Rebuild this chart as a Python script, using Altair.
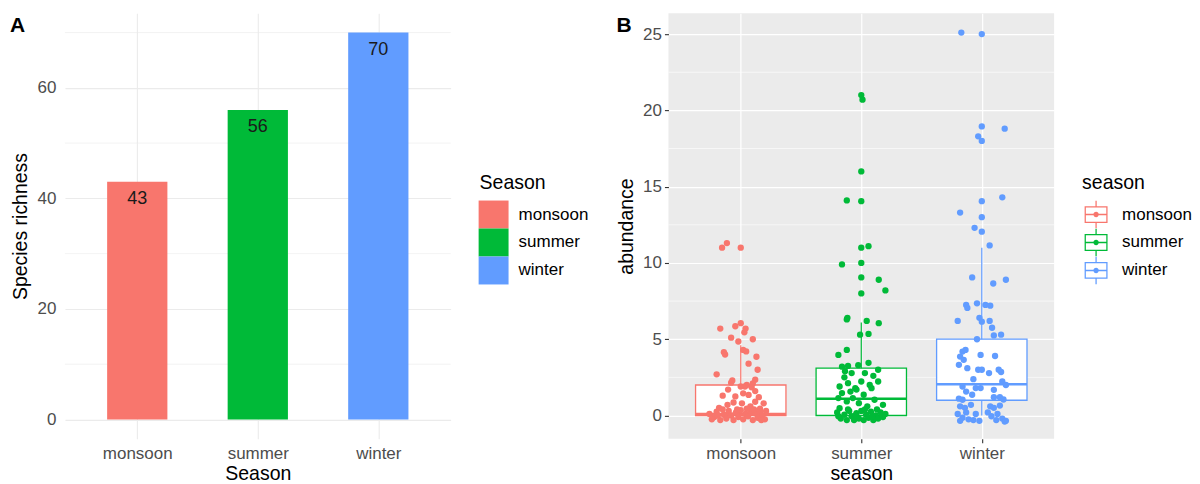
import json
import altair as alt
import pandas as pd

# ---------------- data ----------------
seasons = ["monsoon", "summer", "winter"]
season_colors = ["#F8766D", "#00BA38", "#619CFF"]
richness = [43, 56, 70]

# box statistics
box_lower = [0.0, 0.0, 0.0]
box_q1 = [0.0, 0.0, 1.0]
box_median = [0.1, 1.1, 2.05]
box_q3 = [2.0, 3.1, 5.0]
box_upper = [4.6, 6.1, 11.0]

# jittered observations (horizontal jitter in category units, abundance)
monsoon_jitter = [-0.155, -0.115, 0.0, -0.17, -0.045, 0.0, 0.04, 0.03, 0.1, -0.08, -0.02,
                  -0.14, -0.13, 0.02, 0.045, 0.13, 0.065, -0.2, 0.14,
                  -0.07, -0.08, 0.12, 0.1, 0.05, 0.035, 0.09, 0.0, -0.105, 0.12,
                  -0.045, 0.065, 0.02, 0.15, -0.15,
                  0.01, 0.12, 0.19, -0.11, -0.06, 0.08, -0.18, 0.16,
                  -0.26, -0.22, -0.2, -0.17, -0.14, -0.12, -0.1, -0.08, -0.06, -0.04, -0.02, 0.0,
                  0.02, 0.04, 0.06, 0.08, 0.1, 0.12, 0.14, 0.16, 0.18, 0.2, 0.21, -0.24, -0.15,
                  -0.03, 0.05, 0.11, -0.19, 0.17]
monsoon_abundance = [11.0, 11.3, 11.0, 5.7, 5.85, 6.05, 5.7, 5.45, 5.0, 5.1, 4.85,
                     4.15, 4.0, 4.3, 4.2, 3.85, 3.4, 2.7, 3.0,
                     2.3, 2.15, 2.35, 2.1, 2.0, 1.9, 1.85, 1.9, 1.7, 1.6,
                     1.25, 1.35, 1.45, 1.2, 1.3,
                     0.8, 0.9, 0.8, 0.7, 0.85, 0.6, 0.5, 0.45,
                     0.1, -0.1, 0.25, -0.3, 0.05, -0.2, 0.3, 0.0, -0.3, 0.2, -0.1, 0.35,
                     -0.25, 0.1, -0.05, 0.3, -0.3, 0.15, -0.15, 0.25, 0.0, -0.25, 0.3, -0.25, 0.4,
                     0.4, 0.45, 0.4, 0.0, -0.3]

summer_jitter = [0.0, 0.01, 0.0, -0.12, 0.0, 0.0, 0.06, -0.16, 0.0, 0.0, 0.145, 0.2, 0.0,
                 -0.12, -0.115, 0.045, 0.145, -0.01, 0.06, -0.19, -0.12,
                 0.06, -0.16, -0.11, -0.025, 0.14, -0.135, -0.08, 0.03, -0.11, 0.0, 0.14,
                 -0.18, -0.05, 0.085, -0.16, -0.09, 0.02, 0.11, -0.19, -0.12, -0.07, -0.02,
                 0.18, -0.18, 0.05, 0.13, -0.04, 0.07, -0.14, 0.1,
                 -0.2, -0.17, -0.14, -0.12, -0.1, -0.08, -0.06, -0.04, -0.02, 0.0, 0.02, 0.04,
                 0.06, 0.08, 0.1, 0.12, 0.14, 0.16, 0.18, 0.2, -0.19, -0.11, 0.03, 0.09, -0.05]
summer_abundance = [21.0, 20.7, 16.0, 14.1, 14.05, 11.0, 11.1, 9.9, 10.0, 9.05, 8.9, 8.2, 8.0,
                    6.3, 6.4, 6.2, 6.05, 5.3, 5.35, 3.97, 4.3,
                    3.45, 3.2, 3.25, 3.3, 3.0, 2.9, 2.78, 2.78, 2.12, 2.23, 2.23,
                    1.9, 1.79, 1.79, 1.47, 1.57, 1.36, 1.03, 1.14, 0.92, 1.14, 0.81,
                    0.7, 0.48, 0.6, 0.4, 1.7, 2.0, 2.5, 2.6,
                    0.2, -0.2, 0.05, -0.3, 0.3, -0.05, -0.3, 0.15, -0.2, 0.3, -0.3, 0.05,
                    -0.15, 0.25, -0.3, 0.0, -0.2, 0.2, -0.1, 0.1, -0.05, 0.4, 0.4, -0.05, 0.0]

winter_jitter = [-0.17, 0.0, 0.0, 0.19, -0.03, 0.0, 0.17, 0.0, -0.18, 0.0, -0.06, 0.0, 0.065,
                 -0.08, 0.095, 0.2, -0.13, -0.12, -0.04, 0.03, 0.07, -0.2, -0.02, 0.0, 0.065,
                 0.085, 0.1, 0.16, -0.04,
                 -0.16, -0.135, -0.18, -0.15, -0.01, 0.11, -0.19, -0.12, -0.03, 0.0, 0.06, 0.14,
                 0.16, -0.07, 0.17, 0.2, -0.16, -0.05, -0.01, 0.1, -0.13, -0.19, -0.16, -0.08,
                 0.1, 0.15, 0.18, -0.18, -0.14, -0.09, 0.07, 0.1, 0.15,
                 -0.2, -0.16, -0.11, -0.07, -0.02, 0.08, 0.12, 0.17, 0.19, -0.18, -0.13, 0.13,
                 0.2, 0.05, -0.05]
winter_abundance = [25.1, 25.0, 18.95, 18.8, 18.3, 18.0, 14.3, 14.05, 13.3, 13.0, 12.3, 12.05, 11.15,
                    9.05, 8.65, 8.9, 7.25, 7.05, 7.35, 7.25, 7.2, 6.2, 6.4, 6.15, 6.2,
                    5.75, 5.25, 5.3, 5.0,
                    4.19, 4.3, 3.86, 3.65, 3.97, 3.9, 3.32, 3.1, 3.0, 3.0, 2.78, 3.0,
                    2.85, 2.38, 2.23, 2.0, 1.9, 1.8, 1.8, 1.68, 1.57, 1.1, 1.03, 1.36,
                    1.2, 1.2, 1.05, 0.6, 0.5, 0.7, 0.6, 0.5, 0.65,
                    0.1, -0.15, -0.25, -0.3, -0.35, -0.05, -0.3, -0.2, -0.4, -0.35, 0.2, 0.1,
                    -0.35, 0.2, 0.1]

# axis ticks / grid values
a_major = [0, 20, 40, 60]
a_minor = [10, 30, 50, 70]
b_major = [0, 5, 10, 15, 20, 25]
b_minor = [2.5, 7.5, 12.5, 17.5, 22.5]

FONT = "Liberation Sans"
W, H = 386, 426
label_expr = json.dumps(seasons) + "[round(datum.value) - 1]"

# ---------------- tables ----------------
pos = [i + 1 for i in range(len(seasons))]
bars_df = pd.DataFrame({"Season": seasons, "richness": richness, "pos": pos})
bars_df["x0"] = bars_df["pos"] - 0.25
bars_df["x1"] = bars_df["pos"] + 0.25

box_df = pd.DataFrame({"season": seasons, "pos": pos, "lower": box_lower, "q1": box_q1,
                       "median": box_median, "q3": box_q3, "upper": box_upper})
box_df["x0"] = box_df["pos"] - 0.375
box_df["x1"] = box_df["pos"] + 0.375

rows = []
for i, (jit, ab) in enumerate([(monsoon_jitter, monsoon_abundance),
                               (summer_jitter, summer_abundance),
                               (winter_jitter, winter_abundance)]):
    for j, a in zip(jit, ab):
        rows.append({"season": seasons[i], "pos": i + 1 + j, "abundance": a})
pts_df = pd.DataFrame(rows)

# ---------------- panel A ----------------
xA = alt.Scale(domain=[0.4, 3.6], nice=False, zero=False)
yA = alt.Scale(domain=[-3.5, 73.5], nice=False, zero=False)

axis_common = dict(domain=False, labelFont=FONT, labelFontSize=17, labelColor="#4D4D4D",
                   titleFont=FONT, titleFontSize=19.5, titleColor="#000000",
                   titleFontWeight="normal")

xA_axis = alt.Axis(values=pos, labelExpr=label_expr, title="Season", grid=True,
                   gridColor="#EBEBEB", gridWidth=1.1, ticks=False, tickSize=0,
                   labelPadding=7, titlePadding=3, **axis_common)
yA_axis = alt.Axis(values=a_major, title="Species richness", grid=True,
                   gridColor="#EBEBEB", gridWidth=1.1, ticks=False, tickSize=0,
                   labelPadding=9, titlePadding=7, **axis_common)

bar_rect = "M-1.07,-1L1.07,-1L1.07,1L-1.07,1Z"

minorA = alt.Chart(pd.DataFrame({"v": a_minor})).mark_rule(
    color="#EBEBEB", strokeWidth=0.6).encode(
    x=alt.value(0), x2=alt.value(W),
    y=alt.Y("v:Q", scale=yA, axis=yA_axis))

barsA = alt.Chart(bars_df).mark_bar().encode(
    x=alt.X("x0:Q", scale=xA, axis=xA_axis),
    x2="x1:Q",
    y=alt.Y("richness:Q", scale=yA, axis=yA_axis),
    y2=alt.datum(0),
    color=alt.Color("Season:N", scale=alt.Scale(domain=seasons, range=season_colors),
                    legend=alt.Legend(orient="none", legendX=415, legendY=161,
                                      title="Season", titleFont=FONT, titleFontSize=19.5,
                                      titleFontWeight="normal", titleColor="#000000",
                                      titlePadding=7, labelFont=FONT, labelFontSize=17,
                                      labelColor="#000000", labelOffset=11,
                                      symbolType=bar_rect, symbolSize=784,
                                      symbolStrokeWidth=0, rowPadding=0, padding=0)),
)

labelsA = alt.Chart(bars_df).mark_text(
    font=FONT, fontSize=18, color="#1A1A1A", baseline="alphabetic", dy=22
).encode(x=alt.X("pos:Q", scale=xA, axis=xA_axis),
         y=alt.Y("richness:Q", scale=yA, axis=yA_axis), text="richness:Q")

tagA = alt.Chart(pd.DataFrame({"t": ["A"]})).mark_text(
    font=FONT, fontSize=21, fontWeight="bold", align="left", baseline="alphabetic",
    color="#000000").encode(x=alt.value(-55), y=alt.value(19), text="t:N")

panelA = alt.layer(minorA, barsA, labelsA, tagA).properties(
    width=W, height=H, view=alt.ViewBackground(fill="white", stroke=None))

# ---------------- panel B ----------------
xB = alt.Scale(domain=[0.4, 3.6], nice=False, zero=False)
yB = alt.Scale(domain=[-1.53, 26.37], nice=False, zero=False)

xB_axis = alt.Axis(values=pos, labelExpr=label_expr, title="season", grid=True,
                   gridColor="white", gridWidth=1.2, ticks=True, tickSize=4,
                   tickColor="#333333", tickWidth=1.1, labelPadding=3, titlePadding=3,
                   **axis_common)
yB_axis = alt.Axis(values=b_major, title="abundance", grid=True,
                   gridColor="white", gridWidth=1.2, ticks=True, tickSize=4,
                   tickColor="#333333", tickWidth=1.1, labelPadding=3, titlePadding=6,
                   **axis_common)

stroke_scale = alt.Scale(domain=seasons, range=season_colors)

box_glyph = ("M-0.82,-0.6L0.82,-0.6L0.82,0.6L-0.82,0.6Z"
             "M-0.73,-0.51L-0.73,0.51L0.73,0.51L0.73,-0.51Z"
             "M-0.045,-0.98L0.045,-0.98L0.045,-0.6L-0.045,-0.6Z"
             "M-0.045,0.6L0.045,0.6L0.045,0.98L-0.045,0.98Z"
             "M-0.73,-0.055L0.73,-0.055L0.73,0.055L-0.73,0.055Z"
             "M-0.19,0A0.19,0.19 0 1,1 0.19,0A0.19,0.19 0 1,1 -0.19,0Z")

minorB = alt.Chart(pd.DataFrame({"v": b_minor})).mark_rule(
    color="white", strokeWidth=0.6).encode(
    x=alt.value(0), x2=alt.value(W),
    y=alt.Y("v:Q", scale=yB, axis=yB_axis))

whiskers = alt.Chart(box_df).mark_rule(strokeWidth=1.2).encode(
    x=alt.X("pos:Q", scale=xB, axis=xB_axis),
    y=alt.Y("lower:Q", scale=yB, axis=yB_axis),
    y2="upper:Q",
    stroke=alt.Stroke("season:N", scale=stroke_scale, legend=None),
)

boxes = alt.Chart(box_df).mark_bar(fill="white", strokeWidth=1.3).encode(
    x=alt.X("x0:Q", scale=xB, axis=xB_axis),
    x2="x1:Q",
    y=alt.Y("q1:Q", scale=yB, axis=yB_axis),
    y2="q3:Q",
    stroke=alt.Stroke("season:N", scale=stroke_scale, legend=None),
)

medians = alt.Chart(box_df).mark_rule(strokeWidth=2.6).encode(
    x=alt.X("x0:Q", scale=xB, axis=xB_axis),
    x2="x1:Q",
    y=alt.Y("median:Q", scale=yB, axis=yB_axis),
    stroke=alt.Stroke("season:N", scale=stroke_scale, legend=None),
)

points = alt.Chart(pts_df).mark_circle(size=40, opacity=1).encode(
    x=alt.X("pos:Q", scale=xB, axis=xB_axis),
    y=alt.Y("abundance:Q", scale=yB, axis=yB_axis),
    color=alt.Color("season:N", scale=alt.Scale(domain=seasons, range=season_colors),
                    legend=alt.Legend(orient="none", legendX=414, legendY=161,
                                      title="season", titleFont=FONT, titleFontSize=19.5,
                                      titleFontWeight="normal", titleColor="#000000",
                                      titlePadding=7, labelFont=FONT, labelFontSize=17,
                                      labelColor="#000000", labelOffset=12,
                                      symbolType=box_glyph, symbolSize=784,
                                      symbolStrokeWidth=0, symbolOpacity=1,
                                      rowPadding=0, padding=0)),
)

tagB = alt.Chart(pd.DataFrame({"t": ["B"]})).mark_text(
    font=FONT, fontSize=21, fontWeight="bold", align="left", baseline="alphabetic",
    color="#000000").encode(x=alt.value(-52), y=alt.value(19), text="t:N")

panelB = alt.layer(minorB, whiskers, boxes, medians, points, tagB).properties(
    width=W, height=H, view=alt.ViewBackground(fill="#EBEBEB", stroke=None))

chart = alt.hconcat(panelA, panelB, spacing=28).resolve_scale(
    color="independent", x="independent", y="independent"
).resolve_legend(color="independent").properties(
    padding={"left": 2, "top": 5, "right": 0, "bottom": 0}
).configure(font=FONT, background="white").configure_view(stroke=None)

chart.save("out.html", embed_options={"renderer": "svg", "actions": False})
